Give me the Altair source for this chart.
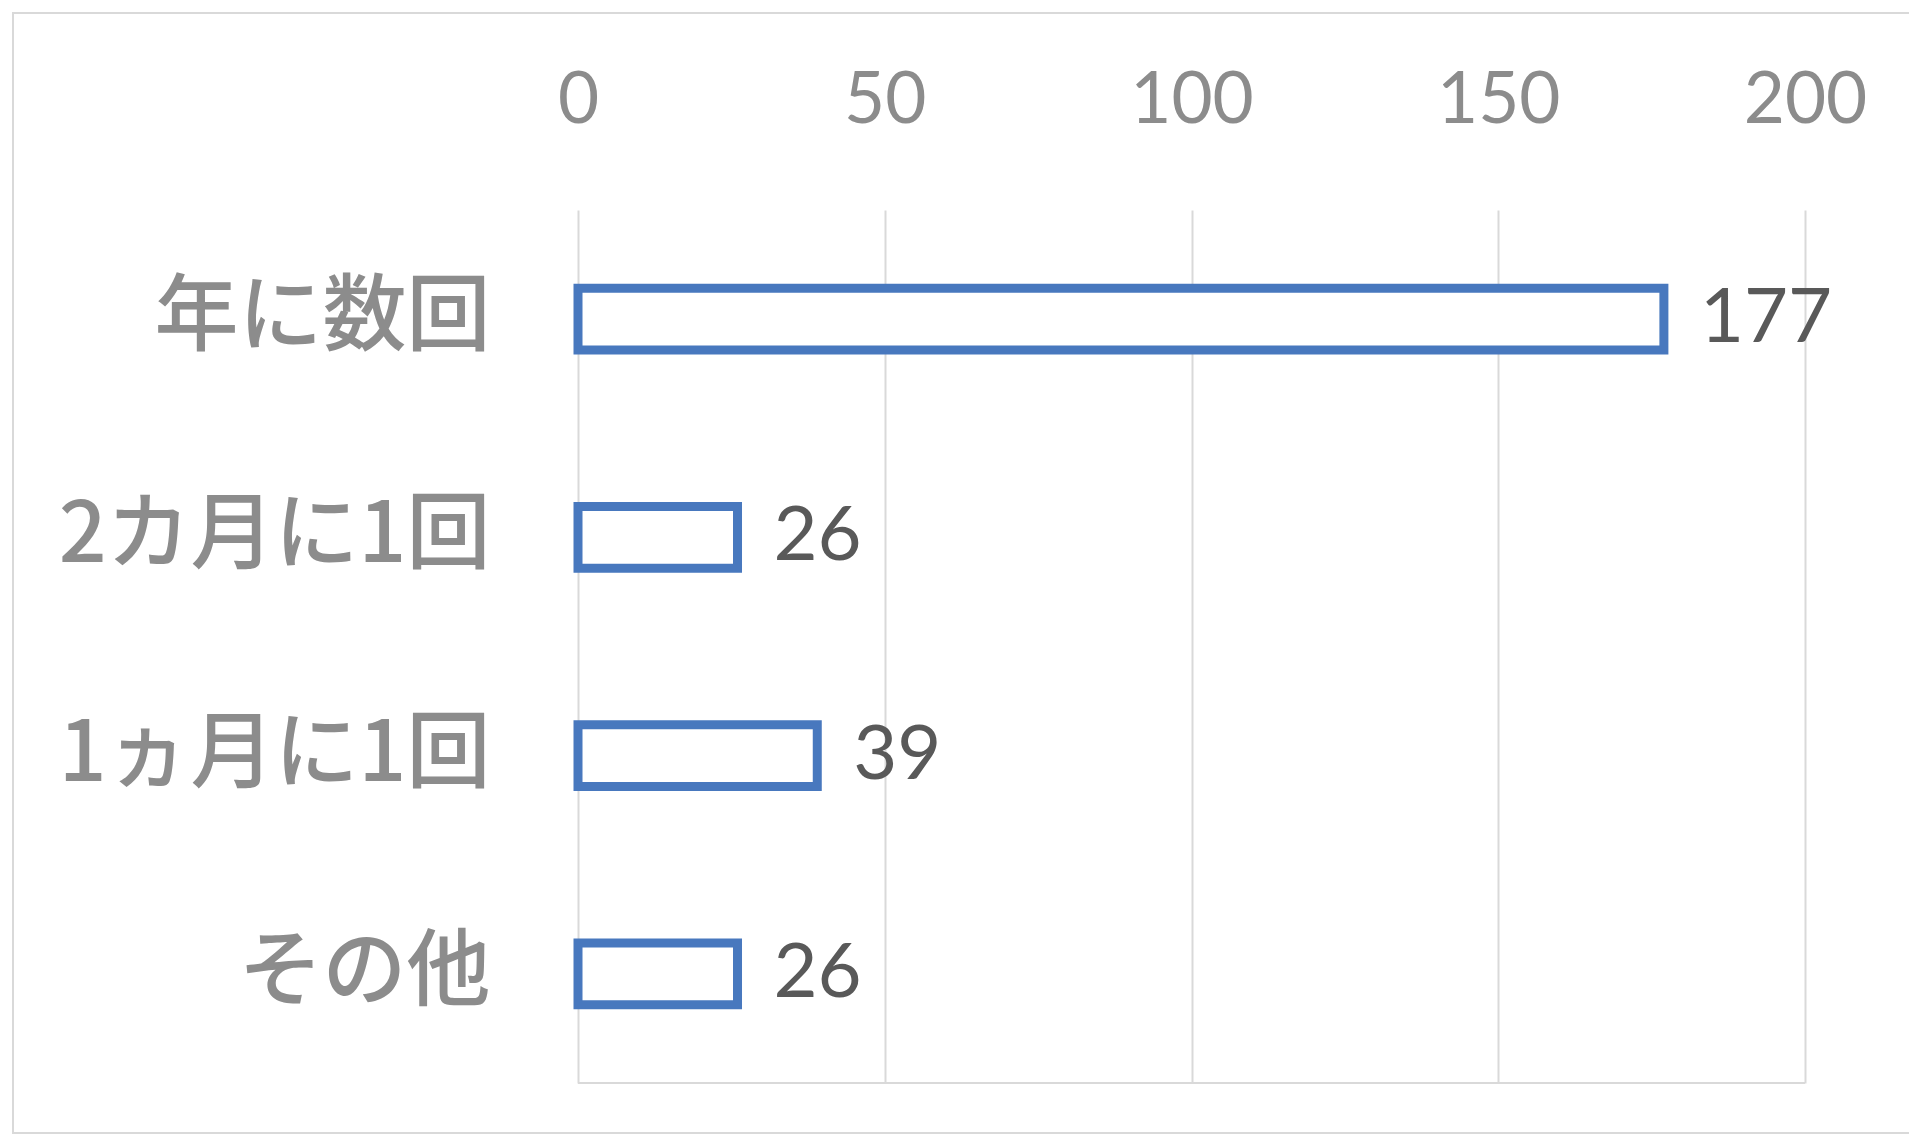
import altair as alt
import pandas as pd

categories = ["年に数回", "2カ月に1回", "1ヵ月に1回", "その他"]
counts = [177, 26, 39, 26]
x_ticks = [0, 50, 100, 150, 200]

df = pd.DataFrame({"category": categories, "count": counts})
frame_df = pd.DataFrame({"k": [0]})

W, H = 1227, 873
GRID = "#d9d9d9"

y_scale = alt.Scale(paddingInner=0.716, paddingOuter=0.358)
x_scale = alt.Scale(domain=[0, 200], nice=False)

y_enc = alt.Y(
    "category:N", sort=categories, scale=y_scale,
    axis=alt.Axis(title=None, ticks=False, domain=False, grid=False,
                  labelPadding=88, labelFont="Noto Sans CJK JP",
                  labelFontWeight=500,
                  labelFontSize=84, labelColor="#8c8c8c", labelLimit=0),
)
x_enc = alt.X(
    "count:Q", scale=x_scale,
    axis=alt.Axis(orient="top", values=x_ticks, title=None, ticks=False,
                  domain=False, labelPadding=88, labelBaseline="alphabetic",
                  labelFlush=False, labelOverlap=False,
                  labelFont="Lato", labelFontSize=71, labelColor="#8c8c8c",
                  grid=True, gridColor=GRID, gridWidth=2),
)

frame = alt.Chart(frame_df).mark_rect(
    fill="transparent", stroke=GRID, strokeWidth=2
).encode(
    x=alt.value(-565), x2=alt.value(1500), y=alt.value(-197), y2=alt.value(923)
)

bottom_line = alt.Chart(frame_df).mark_rule(color=GRID, strokeWidth=2).encode(
    x=alt.value(0), x2=alt.value(W), y=alt.value(H)
)

bars = alt.Chart(df).mark_bar(
    fill="white", stroke="#4878be", strokeWidth=9
).encode(x=x_enc, y=y_enc)

labels = alt.Chart(df).mark_text(
    align="left", baseline="middle", dx=36, font="Lato", fontSize=76,
    color="#595959"
).encode(
    x=alt.X("count:Q", scale=x_scale),
    y=alt.Y("category:N", sort=categories, scale=y_scale),
    text="count:Q",
)

chart = alt.layer(frame, bottom_line, bars, labels).properties(
    width=W, height=H,
    autosize=alt.AutoSizeParams(type="none"),
    padding={"left": 570, "top": 202, "right": 104, "bottom": 52},
    background="white",
).configure_view(stroke=None)

chart.save("out.html", embed_options={"renderer": "svg", "actions": False})
